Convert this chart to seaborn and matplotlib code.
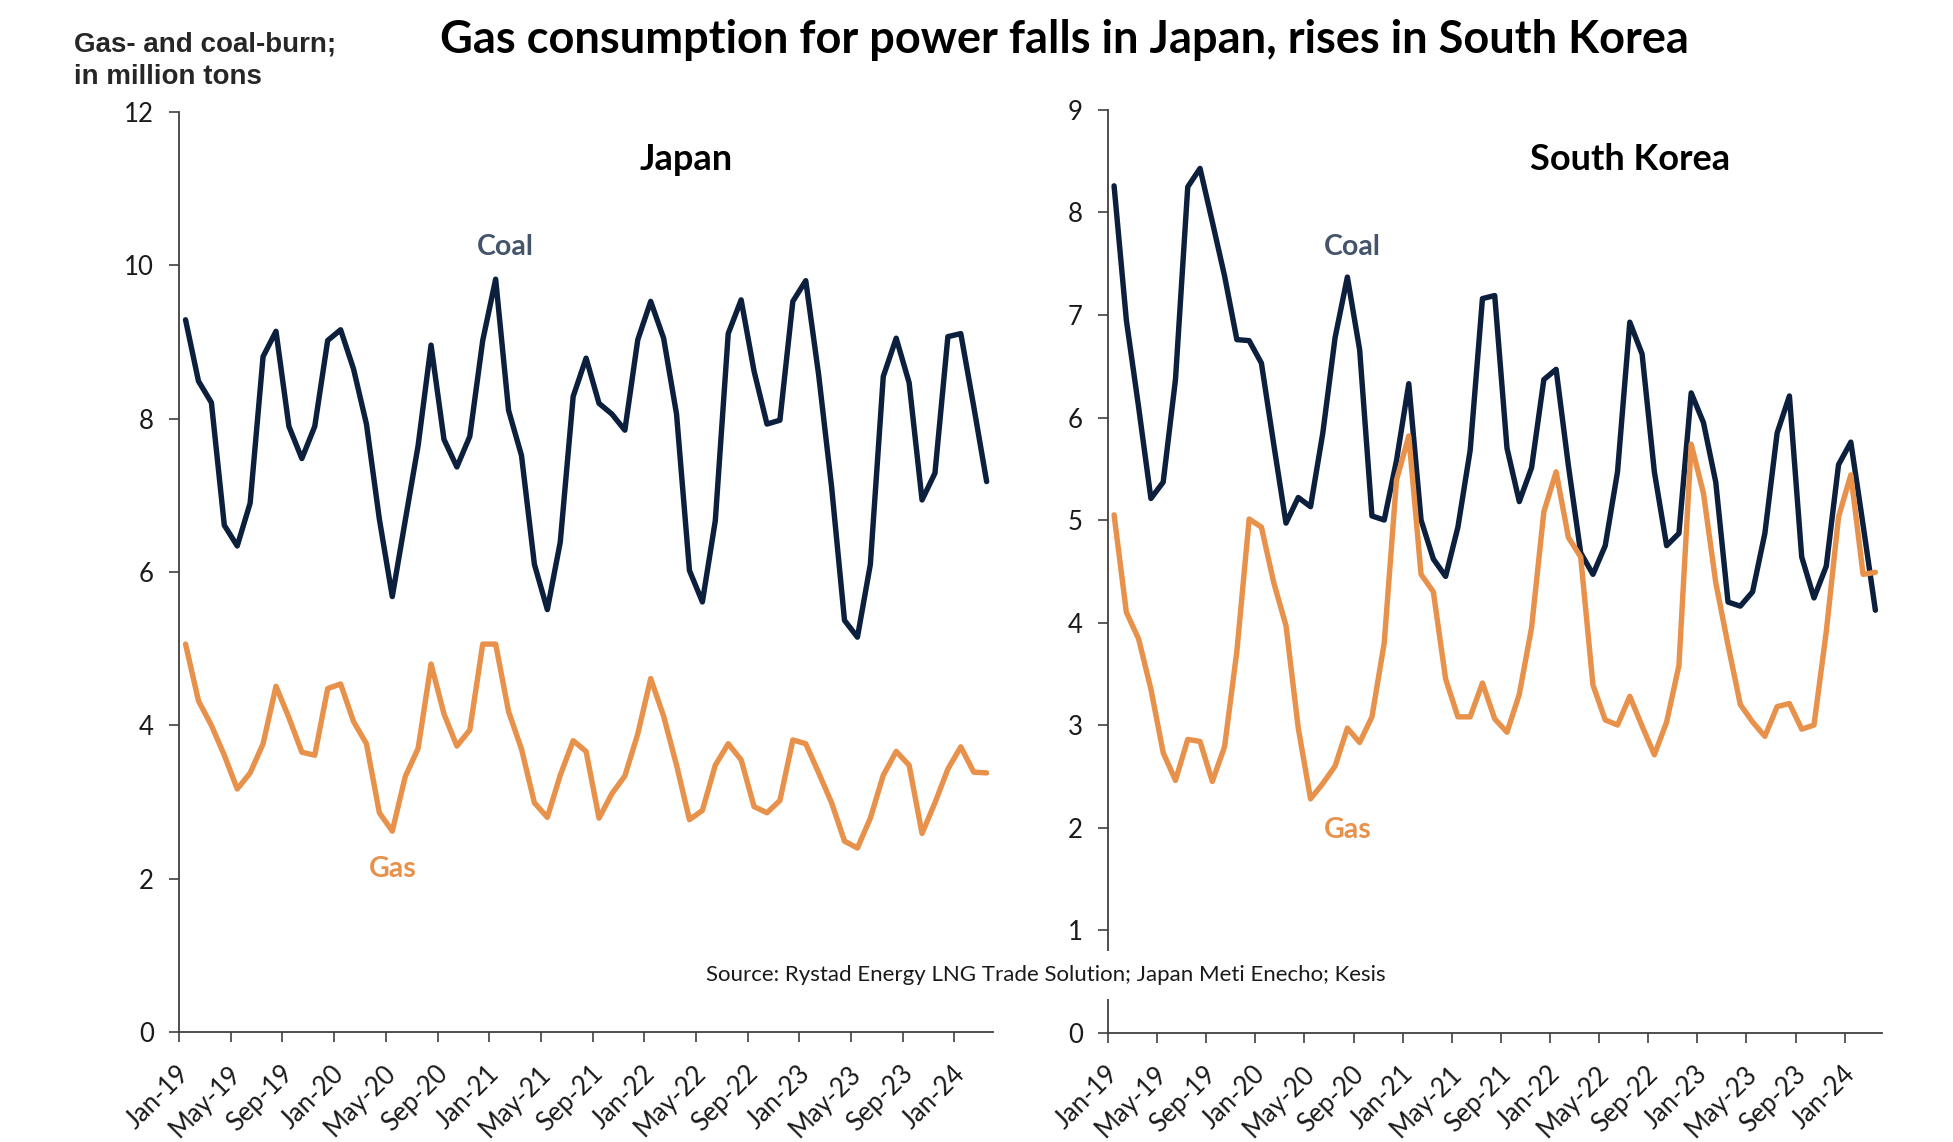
import numpy as np
import pandas as pd
import matplotlib
matplotlib.use("Agg")
import matplotlib.pyplot as plt
import seaborn as sns

# Monthly gas- and coal-burn for power, million tons, Jan-19 .. Mar-24
months = pd.date_range("2019-01-01", periods=63, freq="MS")
tick_labels = ["Jan-19", "May-19", "Sep-19", "Jan-20", "May-20", "Sep-20",
               "Jan-21", "May-21", "Sep-21", "Jan-22", "May-22", "Sep-22",
               "Jan-23", "May-23", "Sep-23", "Jan-24"]

japan_coal = [9.29, 8.49, 8.21, 6.61, 6.34, 6.90, 8.81, 9.14, 7.90, 7.48,
              7.90, 9.02, 9.16, 8.65, 7.93, 6.69, 5.68, 6.67, 7.65, 8.96,
              7.73, 7.37, 7.77, 9.02, 9.82, 8.11, 7.52, 6.10, 5.51, 6.39,
              8.29, 8.79, 8.20, 8.06, 7.85, 9.03, 9.53, 9.05, 8.06, 6.02,
              5.61, 6.67, 9.11, 9.55, 8.62, 7.93, 7.98, 9.53, 9.80, 8.57,
              7.11, 5.37, 5.15, 6.10, 8.55, 9.05, 8.47, 6.94, 7.29, 9.07,
              9.11, 8.16, 7.18]
japan_gas = [5.06, 4.32, 4.00, 3.61, 3.17, 3.38, 3.76, 4.51, 4.10, 3.65,
             3.61, 4.48, 4.54, 4.05, 3.76, 2.86, 2.62, 3.33, 3.70, 4.80,
             4.15, 3.73, 3.94, 5.06, 5.06, 4.18, 3.69, 2.99, 2.80, 3.35,
             3.80, 3.66, 2.79, 3.11, 3.34, 3.89, 4.61, 4.12, 3.48, 2.77,
             2.89, 3.48, 3.76, 3.55, 2.94, 2.86, 3.02, 3.81, 3.76, 3.38,
             2.99, 2.49, 2.40, 2.79, 3.35, 3.66, 3.48, 2.59, 2.99, 3.43,
             3.72, 3.39, 3.38]
korea_coal = [8.26, 6.95, 6.10, 5.21, 5.37, 6.37, 8.25, 8.43, 7.91, 7.38,
              6.76, 6.75, 6.53, 5.74, 4.97, 5.22, 5.13, 5.85, 6.78, 7.37,
              6.66, 5.04, 5.00, 5.58, 6.33, 5.00, 4.62, 4.45, 4.93, 5.68,
              7.16, 7.19, 5.70, 5.18, 5.51, 6.37, 6.47, 5.53, 4.68, 4.47,
              4.75, 5.47, 6.93, 6.62, 5.47, 4.75, 4.87, 6.24, 5.95, 5.37,
              4.20, 4.16, 4.30, 4.87, 5.85, 6.21, 4.64, 4.24, 4.55, 5.54,
              5.76, 4.95, 4.12]
korea_gas = [5.05, 4.10, 3.84, 3.35, 2.73, 2.46, 2.86, 2.84, 2.45, 2.79,
             3.72, 5.01, 4.93, 4.39, 3.97, 2.97, 2.28, 2.43, 2.60, 2.97,
             2.83, 3.08, 3.80, 5.39, 5.82, 4.47, 4.30, 3.45, 3.08, 3.08,
             3.41, 3.06, 2.93, 3.30, 3.95, 5.08, 5.47, 4.83, 4.64, 3.39,
             3.05, 3.00, 3.28, 2.99, 2.71, 3.03, 3.58, 5.74, 5.26, 4.39,
             3.78, 3.20, 3.03, 2.89, 3.18, 3.21, 2.96, 3.00, 3.91, 5.03,
             5.44, 4.47, 4.49]

COAL = "#0c1f3d"
GAS = "#e8914b"
COAL_TXT = "#44546a"
AXIS = "#404040"
palette = {"Coal": COAL, "Gas": GAS}

sns.set_theme(style="white")
plt.rcParams["font.family"] = ["Lato", "DejaVu Sans"]

fig = plt.figure(figsize=(19.53, 11.42), dpi=100)
ax_jp = fig.add_axes([0.0917, 0.0963, 0.4168, 0.8056])
ax_kr = fig.add_axes([0.5673, 0.0958, 0.3961, 0.8079])


def draw_panel(ax, coal, gas, ymax, ystep, name, name_x):
    # category axis: points sit in the middle of each month slot
    pos = np.arange(len(months)) + 0.5
    df = pd.DataFrame({"pos": pos, "Coal": coal, "Gas": gas})
    df = df.melt(id_vars="pos", var_name="fuel", value_name="mt")
    sns.lineplot(data=df, x="pos", y="mt", hue="fuel", palette=palette,
                 linewidth=3.9, legend=False, ax=ax)

    ax.set_xlim(0, len(months))
    ax.set_ylim(0, ymax)
    ax.set_xlabel("")
    ax.set_ylabel("")
    for side in ["top", "right"]:
        ax.spines[side].set_visible(False)
    for side in ["left", "bottom"]:
        ax.spines[side].set_color(AXIS)
        ax.spines[side].set_linewidth(1.3)

    ax.set_yticks(np.arange(0, ymax + 0.1, ystep))
    ax.tick_params(axis="y", length=7, width=1.2, color=AXIS, pad=11,
                   labelsize=18.5, labelcolor="#1a1a1a", left=True)

    label_pos = np.arange(0, len(months), 4) + 0.5
    ax.set_xticks(label_pos)
    ax.set_xticklabels(tick_labels, rotation=45, ha="right", va="center",
                       rotation_mode="anchor")
    ax.tick_params(axis="x", which="major", length=0, pad=27,
                   labelsize=18.5, labelcolor="#1a1a1a")
    ax.set_xticks(np.arange(0, len(months), 4), minor=True)
    ax.tick_params(axis="x", which="minor", length=7, width=1.2,
                   color=AXIS, bottom=True)

    fig.text(name_x, 1 - 160 / 1142, name, ha="center", va="center",
             fontsize=26, fontweight="bold", color="black")


draw_panel(ax_jp, japan_coal, japan_gas, 12, 2, "Japan", 686 / 1953)
draw_panel(ax_kr, korea_coal, korea_gas, 9, 1, "South Korea", 1630 / 1953)

# series labels
fig.text(505 / 1953, 1 - 247 / 1142, "Coal", ha="center", va="center",
         fontsize=20.5, fontweight="bold", color=COAL_TXT)
fig.text(393 / 1953, 1 - 869 / 1142, "Gas", ha="center", va="center",
         fontsize=20.5, fontweight="bold", color=GAS)
fig.text(1352 / 1953, 1 - 247 / 1142, "Coal", ha="center", va="center",
         fontsize=20.5, fontweight="bold", color=COAL_TXT)
fig.text(1348 / 1953, 1 - 830 / 1142, "Gas", ha="center", va="center",
         fontsize=20.5, fontweight="bold", color=GAS)

fig.text(1064 / 1953, 1 - 40 / 1142,
         "Gas consumption for power falls in Japan, rises in South Korea",
         ha="center", va="center", fontsize=32.5, fontweight="bold",
         color="black")

fig.text(74 / 1953, 1 - 45 / 1142, "Gas- and coal-burn;", ha="left",
         va="center", fontsize=20, fontweight="bold",
         family=["Liberation Sans", "DejaVu Sans"])
fig.text(74 / 1953, 1 - 77 / 1142, "in million tons", ha="left",
         va="center", fontsize=20, fontweight="bold",
         family=["Liberation Sans", "DejaVu Sans"])

# source line sits on a white box that breaks the Korea y-axis
fig.text(1046 / 1953, 1 - 975 / 1142,
         "Source: Rystad Energy LNG Trade Solution; Japan Meti Enecho; Kesis",
         ha="center", va="center", fontsize=16, color="#1a1a1a",
         bbox=dict(facecolor="white", edgecolor="none", pad=10))

fig.savefig("out.png", dpi=100)
